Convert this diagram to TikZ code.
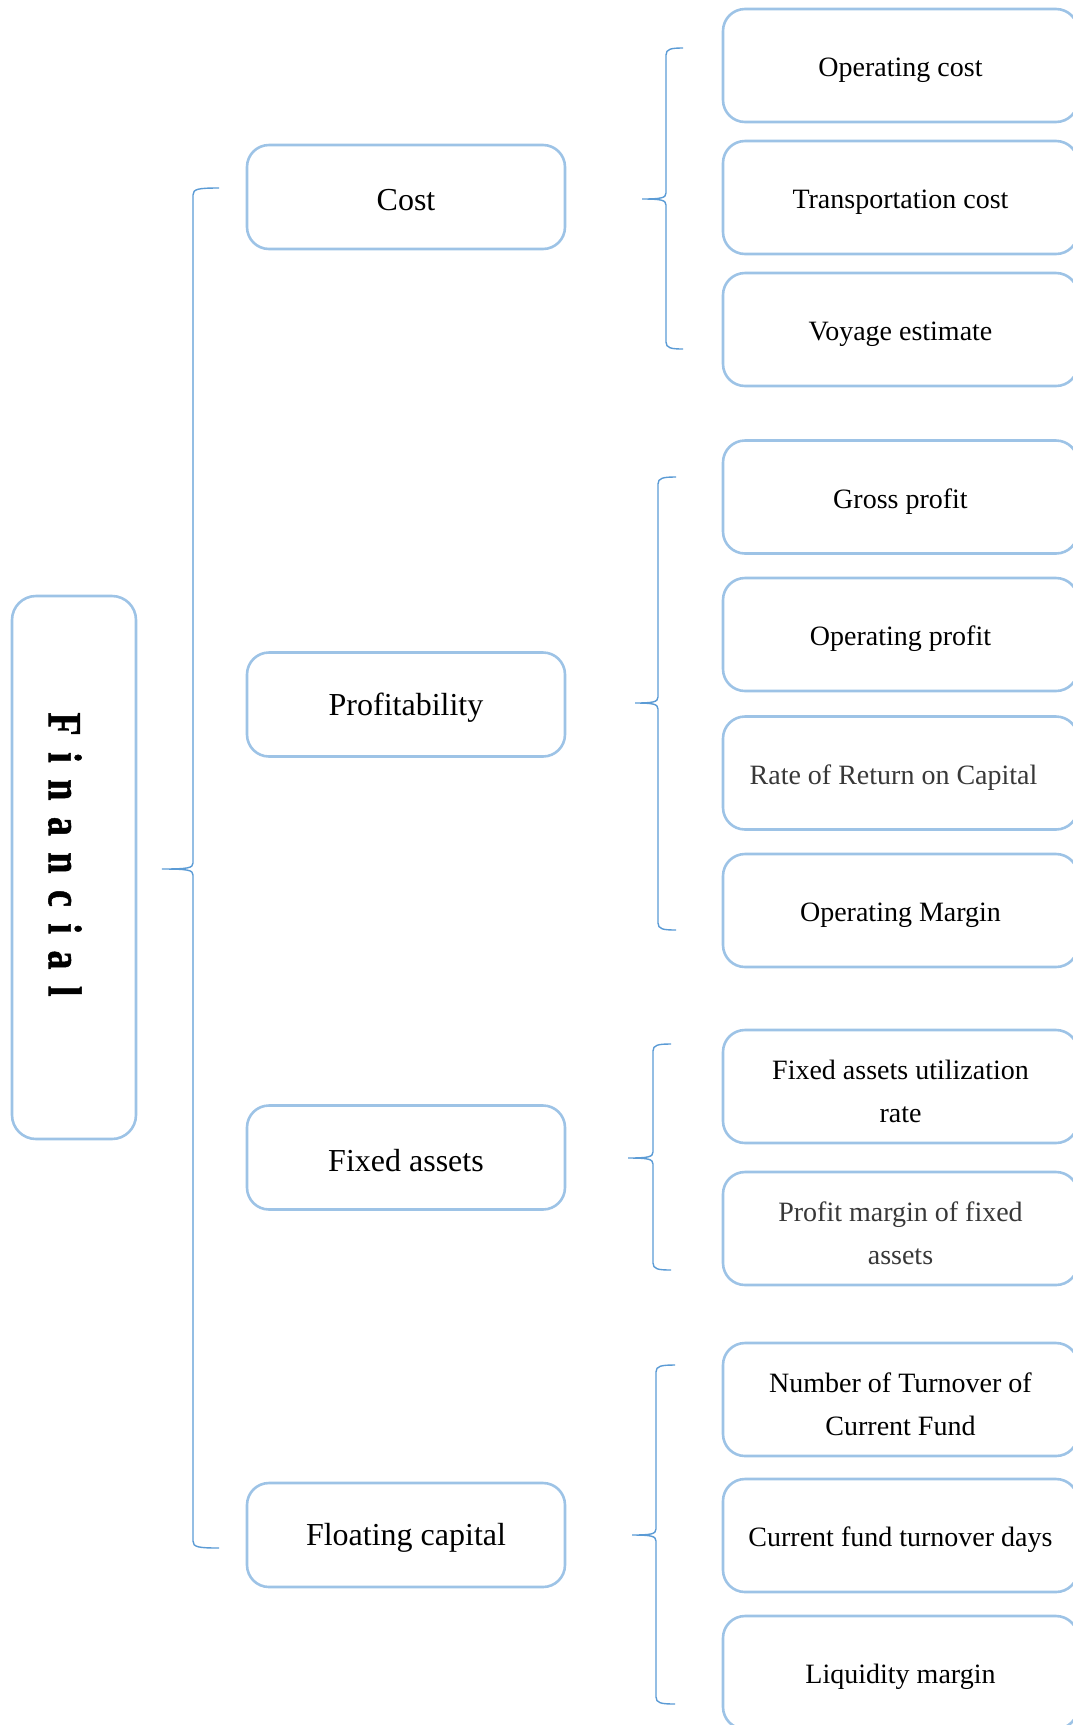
\documentclass[tikz,border=0pt]{standalone}
\usepackage{fontspec}
\setmainfont{Liberation Serif}
\newfontfamily\finfont[FakeBold=1.2]{Liberation Serif Bold}
\usepackage{graphicx}
\usepackage{tikz}
\usetikzlibrary{positioning}
\usepackage{xcolor}

\definecolor{boxblue}{RGB}{157,195,230}
\definecolor{braceblue}{RGB}{91,155,213}

\newcommand{\finsp}{\kern16.5pt}
% tip x, line x, end x, top y, mid y, bottom y
\newcommand{\sidebrace}[6]{%
  \draw[bracestroke] (#3,#4) .. controls ({#2+5},#4) and (#2,{#4+1}) .. (#2,{#4+7})
    -- (#2,{#5-6}) .. controls (#2,{#5-1}) and ({#2-5},#5) .. (#1,#5)
    .. controls ({#2-5},#5) and (#2,{#5+1}) .. (#2,{#5+6})
    -- (#2,{#6-7}) .. controls (#2,{#6-1}) and ({#2+5},#6) .. (#3,#6);}

\tikzset{
  box/.style={draw=boxblue, line width=2.6pt, rounded corners=22pt, inner sep=0pt},
  rootbox/.style={box, rounded corners=24pt, minimum width=124pt, minimum height=543pt},
  midbox/.style={box, minimum width=318pt, minimum height=104pt},
  leafbox/.style={box, minimum width=355pt, minimum height=113pt},
  midtext/.style={align=center, yshift=-3pt, font=\fontsize{32}{38}\selectfont},
  leaftext/.style={align=center, yshift=-4.5pt, font=\fontsize{28}{43}\selectfont},
  bracestroke/.style={draw=braceblue, line width=1.4pt},
}

\begin{document}
\begin{tikzpicture}[x=1pt,y=-1pt]
	\useasboundingbox (0,0) rectangle (1073,1725);
	\clip (0,0) rectangle (1073,1725);

	% root
	\node[rootbox] (fin) at (74,867.5) {};
	\node[rotate=-90, inner sep=0pt, font=\fontsize{38}{38}\finfont] (finlabel) at ([shift={(-9,-13)}]fin.center)
		{\scalebox{1}[1.25]{F\finsp i\finsp n\finsp a\finsp n\finsp c\finsp i\finsp a\finsp l}};

	% second level
	\node[midbox, label={[midtext]center:Cost}] (cost) at (406,197) {};
	\node[midbox, label={[midtext]center:Profitability}] (prof) at (406,704.5) {};
	\node[midbox, label={[midtext]center:Fixed assets}] (fixed) at (406,1157.5) {};
	\node[midbox, label={[midtext]center:Floating capital}] (float) at (406,1535) {};

	% leaves
	\node[leafbox, label={[leaftext]center:Operating cost}] (oc) at (900.5,65.5) {};
	\node[leafbox, label={[leaftext]center:Transportation cost}] (tc) at (900.5,197.5) {};
	\node[leafbox, label={[leaftext]center:Voyage estimate}] (ve) at (900.5,329.5) {};

	\node[leafbox, label={[leaftext]center:Gross profit}] (gp) at (900.5,497) {};
	\node[leafbox, label={[leaftext]center:Operating profit}] (op) at (900.5,634.5) {};
	\node[leafbox, label={[leaftext, text=black!78]center:\kern-14pt Rate of Return on Capital}] (rr) at (900.5,773) {};
	\node[leafbox, label={[leaftext]center:Operating Margin}] (om) at (900.5,910.5) {};

	\node[leafbox, label={[leaftext]center:{Fixed assets utilization\\rate}}] (fa) at (900.5,1086.5) {};
	\node[leafbox, label={[leaftext, text=black!78]center:{Profit margin of fixed\\assets}}] (pm) at (900.5,1228.5) {};

	\node[leafbox, label={[leaftext]center:{Number of Turnover of\\Current Fund}}] (nt) at (900.5,1399.5) {};
	\node[leafbox, label={[leaftext]center:Current fund turnover days}] (cf) at (900.5,1535.5) {};
	\node[leafbox, label={[leaftext]center:Liquidity margin}] (lm) at (900.5,1672.5) {};

	% braces
	\sidebrace{162}{193}{219}{188}{869}{1548}
	\sidebrace{642}{666}{683}{48}{199}{349}
	\sidebrace{635}{658}{676}{477}{703}{930}
	\sidebrace{628}{653}{671}{1044}{1158}{1270}
	\sidebrace{632}{656}{675}{1365}{1535}{1704}
\end{tikzpicture}
\end{document}
